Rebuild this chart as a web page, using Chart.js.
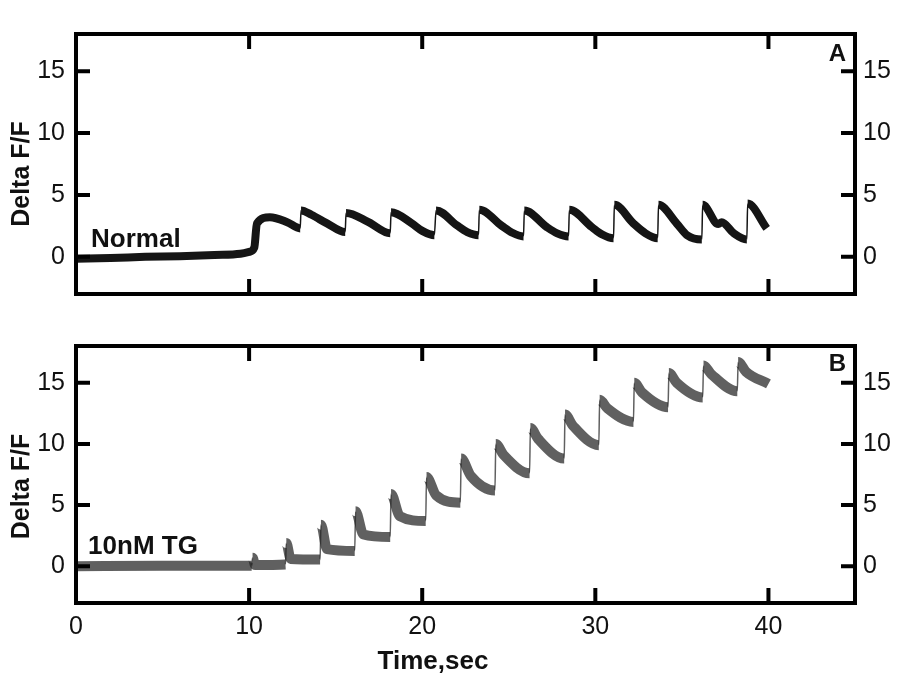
<!DOCTYPE html>
<html>
<head>
<meta charset="utf-8">
<script src="https://cdn.jsdelivr.net/npm/chart.js@4.4.1/dist/chart.umd.min.js"></script>
<style>
  body { margin: 0; background: #fff; }
  #wrap { position: relative; width: 900px; height: 693px; }
  canvas { position: absolute; left: 0; }
</style>
</head>
<body>
<div id="wrap">
  <canvas id="chartA" width="900" height="320" style="top:0"></canvas>
  <canvas id="chartB" width="900" height="373" style="top:320px"></canvas>
</div>
<script>
// tick labels
var xTicks = [0, 10, 20, 30, 40];
var yTicks = [0, 5, 10, 15];

// panel A - Normal
var timeA = [0, 2, 4, 6, 8, 9.5, 10.0, 10.3,
  10.45, 11.2, 12.2, 12.95,
  13.0, 13.6, 14.5, 15.55,
  15.6, 16.9, 18.15,
  18.2, 19.4, 20.0, 20.7,
  20.8, 22.0, 22.6, 23.25,
  23.3, 24.6, 25.2, 25.85,
  25.9, 27.2, 27.8, 28.45,
  28.5, 29.8, 30.4, 31.05,
  31.1, 32.2, 32.9, 33.6,
  33.65, 34.7, 35.3, 36.15,
  36.2, 37.1, 37.3, 38.0, 38.75,
  38.8, 39.9];
var normalA = [-0.15, -0.1, 0.0, 0.05, 0.15, 0.25, 0.4, 0.75,
  2.7, 3.2, 2.8, 2.3,
  3.75, 3.4, 2.7, 2.0,
  3.55, 2.8, 1.9,
  3.6, 2.7, 2.1, 1.75,
  3.75, 2.55, 2.0, 1.75,
  3.8, 2.5, 1.95, 1.65,
  3.75, 2.4, 1.9, 1.65,
  3.8, 2.4, 1.8, 1.5,
  4.2, 2.7, 1.9, 1.5,
  4.2, 2.7, 1.75, 1.4,
  4.2, 2.65, 2.8, 1.9, 1.4,
  4.3, 2.3];

// panel B - 10nM TG
var timeB = [0, 5, 10.15, 10.2, 10.35, 12.1,
  12.15, 12.4, 14.1,
  14.15, 14.5, 16.1,
  16.15, 16.6, 18.15,
  18.2, 18.7, 20.2,
  20.25, 20.8, 22.2,
  22.25, 22.8, 24.2,
  24.25, 24.7, 26.2,
  26.25, 26.7, 28.2,
  28.25, 28.7, 30.2,
  30.25, 30.7, 32.2,
  32.25, 32.7, 34.2,
  34.25, 34.7, 36.2,
  36.25, 36.7, 38.2,
  38.25, 38.7, 40.0];
var tgB = [0.0, 0.05, 0.05, 0.7, 0.1, 0.15,
  1.9, 0.6, 0.55,
  3.4, 1.4, 1.25,
  4.5, 2.6, 2.4,
  5.9, 4.1, 3.7,
  7.3, 5.8, 5.2,
  8.8, 7.4, 6.2,
  10.0, 9.1, 7.6,
  11.3, 10.4, 8.8,
  12.4, 11.5, 9.9,
  13.6, 12.9, 11.8,
  15.0, 14.2, 13.0,
  15.8, 15.0, 13.8,
  16.4, 15.7, 14.3,
  16.7, 15.9, 14.9];

var FONT = "'Liberation Sans', Arial, Helvetica, sans-serif";

// box, inward ticks and the extra texts
var framePlugin = {
  id: 'frame',
  afterDraw: function(chart, args, opts) {
    var ctx = chart.ctx, a = chart.chartArea;
    var x = chart.scales.x, y = chart.scales.y;
    ctx.save();
    ctx.strokeStyle = '#000';
    ctx.lineWidth = 4;
    ctx.strokeRect(a.left, a.top, a.right - a.left, a.bottom - a.top);
    ctx.beginPath();
    y.ticks.forEach(function(t) {
      var py = y.getPixelForValue(t.value);
      ctx.moveTo(a.left, py); ctx.lineTo(a.left + 14, py);
      ctx.moveTo(a.right, py); ctx.lineTo(a.right - 14, py);
    });
    x.ticks.forEach(function(t) {
      var px = x.getPixelForValue(t.value);
      ctx.moveTo(px, a.bottom); ctx.lineTo(px, a.bottom - 15);
      ctx.moveTo(px, a.top); ctx.lineTo(px, a.top + 15);
    });
    ctx.stroke();

    ctx.fillStyle = '#111';
    ctx.font = 'bold 26px ' + FONT;
    ctx.textAlign = 'left';
    ctx.textBaseline = 'alphabetic';
    ctx.fillText(opts.note, x.getPixelForValue(opts.noteAt[0]), y.getPixelForValue(opts.noteAt[1]));

    ctx.font = 'bold 24px ' + FONT;
    ctx.textAlign = 'right';
    ctx.fillText(opts.tag, a.right - 9, a.top + opts.tagDy);

    ctx.font = 'bold 25px ' + FONT;
    ctx.textAlign = 'center';
    ctx.textBaseline = 'middle';
    ctx.save();
    ctx.translate(22, (a.top + a.bottom) / 2 + opts.yTitleDy);
    ctx.rotate(-Math.PI / 2);
    ctx.fillText('Delta F/F', 0, 0);
    ctx.restore();

    if (opts.xTitle) {
      ctx.font = 'bold 26px ' + FONT;
      ctx.fillText(opts.xTitle, 433, a.bottom + 59);
    }
    ctx.restore();
  }
};

function pts(t, v) {
  return t.map(function(tt, i) { return { x: tt, y: v[i] }; });
}

function setTicks(list) {
  return function(scale) {
    scale.ticks = list.map(function(v) { return { value: v }; });
  };
}

function makeChart(id, times, values, o) {
  return new Chart(document.getElementById(id), {
    type: 'line',
    data: {
      datasets: [{
        data: pts(times, values),
        borderColor: o.color,
        borderWidth: o.width,
        borderCapStyle: 'butt',
        pointRadius: 0,
        cubicInterpolationMode: 'monotone',
        fill: false,
        segment: {
          // the jumps are thin in the trace
          borderWidth: function(c) {
            return (c.p1.parsed.x - c.p0.parsed.x) < 0.12 ? 1.5 : o.width;
          }
        }
      }]
    },
    options: {
      responsive: false,
      animation: false,
      layout: { padding: { left: 0, right: 0, top: o.top, bottom: 0 } },
      plugins: {
        legend: { display: false },
        tooltip: { enabled: false },
        frame: o.frame
      },
      scales: {
        x: {
          type: 'linear', min: 0, max: 45,
          grid: { display: false, drawTicks: false },
          border: { display: false },
          afterBuildTicks: setTicks(xTicks),
          afterFit: function(s) { s.height = o.bottom; },
          ticks: { display: o.showX, padding: 9, color: '#111', font: { size: 25, family: FONT } }
        },
        y: {
          type: 'linear', position: 'left', min: -3, max: 18,
          grid: { display: false, drawTicks: false },
          border: { display: false },
          afterBuildTicks: setTicks(yTicks),
          afterFit: function(s) { s.width = 76; },
          ticks: { padding: 11, color: '#111', font: { size: 25, family: FONT } }
        },
        y2: {
          type: 'linear', position: 'right', min: -3, max: 18, display: true,
          grid: { display: false, drawTicks: false },
          border: { display: false },
          afterBuildTicks: setTicks(yTicks),
          afterFit: function(s) { s.width = 45; },
          ticks: { padding: 8, color: '#111', font: { size: 25, family: FONT } }
        }
      }
    },
    plugins: [framePlugin]
  });
}

makeChart('chartA', timeA, normalA, {
  color: '#151515', width: 8, top: 34, bottom: 12, showX: false,
  frame: { note: 'Normal', noteAt: [0.87, 0.77], tag: 'A', tagDy: 27, yTitleDy: 10 }
});

makeChart('chartB', timeB, tgB, {
  color: 'rgba(35,35,35,0.72)', width: 10, top: 10, bottom: 90, showX: true,
  frame: { note: '10nM TG', noteAt: [0.7, 1.0], tag: 'B', tagDy: 25, yTitleDy: 12, xTitle: 'Time,sec' }
});
</script>
</body>
</html>
